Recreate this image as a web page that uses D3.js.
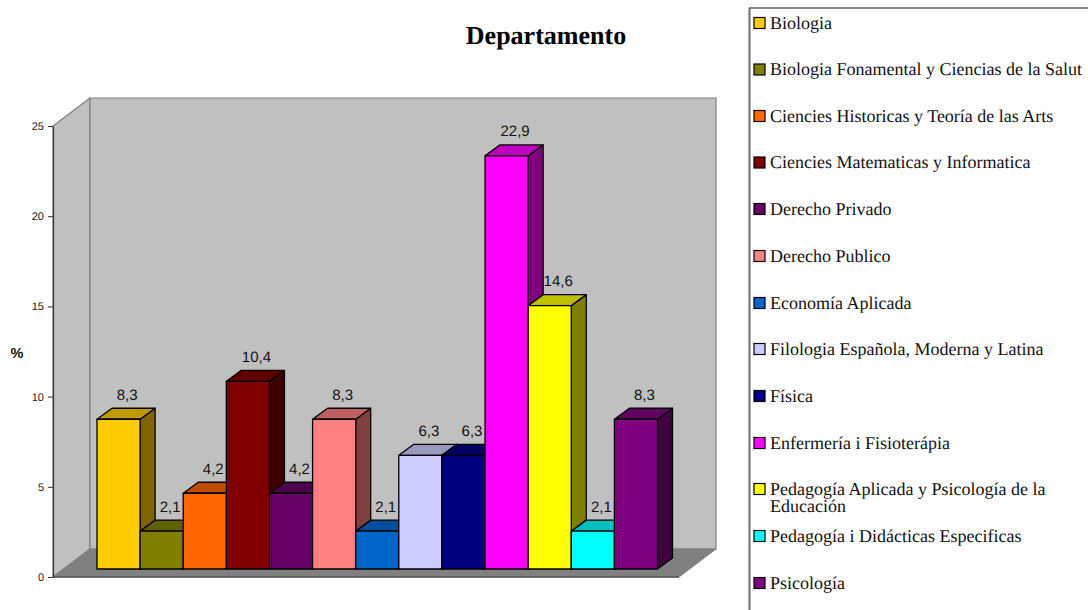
<!DOCTYPE html>
<html><head><meta charset="utf-8">
<script src="https://cdnjs.cloudflare.com/ajax/libs/d3/7.8.5/d3.min.js"></script>
<style>html,body{margin:0;padding:0;background:#fff;overflow:hidden}svg{display:block;text-rendering:geometricPrecision}</style>
</head><body><svg id="c" width="1088" height="610"></svg>
<script>
const categories = ["Biologia","Biologia Fonamental y Ciencias de la Salut","Ciencies Historicas y Teoría de las Arts","Ciencies Matematicas y Informatica","Derecho Privado","Derecho Publico","Economía Aplicada","Filologia Española, Moderna y Latina","Física","Enfermería i Fisioterápia","Pedagogía Aplicada y Psicología de la Educación","Pedagogía i Didácticas Especificas","Psicología"];
const values = [8.3,2.1,4.2,10.4,4.2,8.3,2.1,6.3,6.3,22.9,14.6,2.1,8.3];
const colors = ["#FFCC00","#808000","#FF6600","#800000","#660066","#FF8080","#0066CC","#CCCCFF","#000080","#FF00FF","#FFFF00","#00FFFF","#800080"];
const yTicks = [0,5,10,15,20,25];
const legendLines = [["Biologia"],["Biologia Fonamental y Ciencias de la Salut"],["Ciencies Historicas y Teoría de las Arts"],["Ciencies Matematicas y Informatica"],["Derecho Privado"],["Derecho Publico"],["Economía Aplicada"],["Filologia Española, Moderna y Latina"],["Física"],["Enfermería i Fisioterápia"],["Pedagogía Aplicada y Psicología de la","Educación"],["Pedagogía i Didácticas Especificas"],["Psicología"]];

const svg = d3.select("#c");
const y = d3.scaleLinear().domain([0,25]).range([577,126]);
const x = d3.scaleBand().domain(d3.range(values.length)).range([97,657.5]).padding(0);
const depth = {dx:37, dy:-28};
const bar = {dx:15, dy:-11, offX:0, offY:-8};
const frontL = 53, frontR = 679;
const poly = pts => pts.map(p=>p.join(",")).join(" ");

// walls
svg.append("polygon").attr("points",poly([[frontL,y(25)],[frontL+depth.dx,y(25)+depth.dy],[frontL+depth.dx,y(0)+depth.dy],[frontL,y(0)]]))
  .attr("fill","#c0c0c0").attr("stroke","#808080").attr("stroke-width",1.2);
svg.append("polygon").attr("points",poly([[frontL+depth.dx,y(25)+depth.dy],[frontR+depth.dx,y(25)+depth.dy],[frontR+depth.dx,y(0)+depth.dy],[frontL+depth.dx,y(0)+depth.dy]]))
  .attr("fill","#c0c0c0").attr("stroke","#808080").attr("stroke-width",1.2);
// floor
svg.append("polygon").attr("points",poly([[frontL,y(0)],[frontL+depth.dx,y(0)+depth.dy],[frontR+depth.dx,y(0)+depth.dy],[frontR,y(0)]]))
  .attr("fill","#808080").attr("stroke","#808080");
svg.append("line").attr("x1",frontL).attr("x2",frontR).attr("y1",y(0)).attr("y2",y(0)).attr("stroke","#555").attr("stroke-width",1.5);

// axis
const axis = d3.axisLeft(y).tickValues(yTicks).tickSize(5).tickSizeOuter(0);
const ga = svg.append("g").attr("transform",`translate(${frontL},0)`).call(axis);
ga.selectAll("text").attr("font-family","'Liberation Sans',Arial,sans-serif").attr("font-size",11).attr("fill","#222").attr("dx",-1);
ga.selectAll("line").attr("stroke","#333");
ga.select(".domain").attr("stroke","#333").attr("stroke-width",1.2);
svg.append("text").attr("x",17).attr("y",358).attr("text-anchor","middle").attr("font-family","'Liberation Sans',Arial,sans-serif").attr("font-size",14.5).attr("font-weight","bold").attr("fill","#111").text("%");

// title
svg.append("text").attr("x",546).attr("y",44).attr("text-anchor","middle").attr("font-family","'Liberation Serif','Times New Roman',serif").attr("font-size",26).attr("font-weight","bold").attr("fill","#000").text("Departamento");

// bars, each label painted before the next bar
const shade = (c,k)=>{const r=d3.rgb(c);return d3.rgb(r.r*k,r.g*k,r.b*k).formatHex();};
const base = y(0)+bar.offY;
values.forEach((v,i)=>{
  const x0=x(i), x1=x0+x.bandwidth(), top=base-(y(0)-y(v));
  const g=svg.append("g").attr("stroke","#000").attr("stroke-width",1.3).attr("stroke-linejoin","round");
  g.append("polygon").attr("points",poly([[x1,top],[x1+bar.dx,top+bar.dy],[x1+bar.dx,base+bar.dy],[x1,base]])).attr("fill",shade(colors[i],0.5));
  g.append("polygon").attr("points",poly([[x0,top],[x0+bar.dx,top+bar.dy],[x1+bar.dx,top+bar.dy],[x1,top]])).attr("fill",shade(colors[i],0.75));
  g.append("rect").attr("x",x0).attr("y",top).attr("width",x.bandwidth()).attr("height",base-top).attr("fill",colors[i]);
  svg.append("text").attr("x",(x0+x1)/2+8.5).attr("y",top+bar.dy-8.5).attr("text-anchor","middle")
    .attr("font-family","'Liberation Sans',Arial,sans-serif").attr("font-size",15).attr("fill","#111").text(String(v).replace(".",","));
});

// legend
const legendRows = [23,69.5,116,162.5,209,256,303,349,396,443,489,536,583];
const lg = svg.append("g");
lg.append("rect").attr("x",749.5).attr("y",8).attr("width",400).attr("height",700).attr("fill","#fff").attr("stroke","#333").attr("stroke-width",1.2);
lg.append("line").attr("x1",749.5).attr("x2",749.5).attr("y1",8).attr("y2",610).attr("stroke","#777").attr("stroke-width",2);
legendLines.forEach((lines,i)=>{
  const ry=legendRows[i];
  lg.append("rect").attr("x",754).attr("y",ry-5.5).attr("width",11).attr("height",11).attr("fill",colors[i]).attr("stroke","#000").attr("stroke-width",1.2);
  const t=lg.append("text").attr("font-family","'Liberation Serif','Times New Roman',serif").attr("font-size",18).attr("fill","#111");
  lines.forEach((s,j)=>t.append("tspan").attr("x",770).attr("y",ry+5.5+j*17).text(s));
});
</script></body></html>
